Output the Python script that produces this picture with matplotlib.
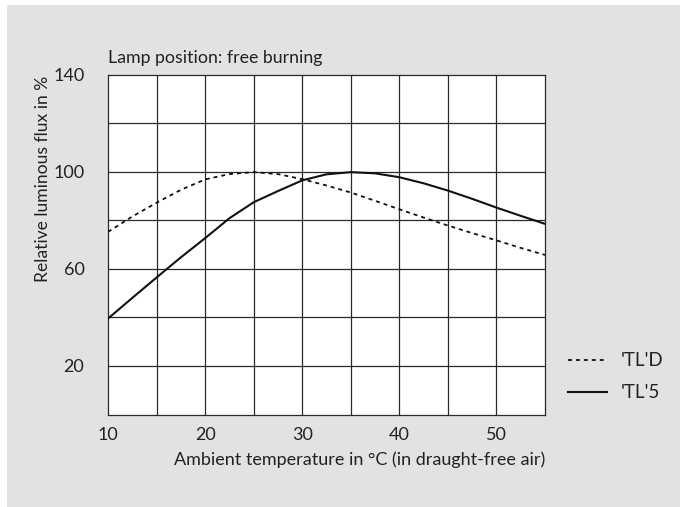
import numpy as np
import matplotlib
matplotlib.use("Agg")
import matplotlib.pyplot as plt
from matplotlib.patches import Rectangle
from matplotlib.lines import Line2D

plt.rcParams['font.family'] = ['Lato', 'DejaVu Sans']

# ambient temperature (deg C)
temp = [10, 12.5, 15, 17.5, 20, 22.5, 25, 27.5, 30, 32.5, 35, 37.5,
        40, 42.5, 45, 47.5, 50, 52.5, 55]
# relative luminous flux (%)
flux_tld = [75.2, 81.5, 87.2, 92.5, 96.8, 99.0, 99.8, 99.0, 96.9, 94.3, 91.4, 88.0,
            84.5, 81.1, 77.8, 74.7, 71.7, 68.6, 65.7]
flux_tl5 = [39.5, 48.0, 56.4, 64.7, 72.6, 80.8, 87.4, 92.0, 96.4, 98.9, 99.8, 99.3,
            97.7, 95.2, 92.2, 88.8, 85.2, 81.8, 78.5]

x_ticks = [10, 20, 30, 40, 50]
y_ticks = [20, 60, 100, 140]
labels = ["'TL'D", "'TL'5"]
styles = [(0, (2.2, 2.2)), '-']

W, H = 680, 507
TXT = '#222222'
fig = plt.figure(figsize=(W / 100, H / 100), dpi=100)
fig.patch.set_facecolor('white')
fig.patches.append(Rectangle((7 / W, 0), 1, 1 - 5 / H, transform=fig.transFigure,
                             facecolor='#e1e2e4', edgecolor='none', zorder=-10))

ax = fig.add_axes([108 / W, 1 - 414.5 / H, 437 / W, 340 / H])
ax.set_facecolor('white')
ax.set_xlim(10, 55)
ax.set_ylim(0, 140)

# grid
for xv in np.arange(15, 55, 5):
    ax.axvline(xv, color='#2a2a2a', lw=0.9, zorder=1)
for yv in np.arange(20, 140, 20):
    ax.axhline(yv, color='#2a2a2a', lw=0.9, zorder=1)

ax.plot(temp, flux_tld, color='#111111', lw=1.3, ls=styles[0], zorder=3)
ax.plot(temp, flux_tl5, color='#111111', lw=1.5, ls=styles[1], zorder=3)

for s in ax.spines.values():
    s.set_color('#2a2a2a')
    s.set_linewidth(0.9)

ax.set_xticks(x_ticks)
ax.set_yticks(y_ticks)
ax.set_xticklabels([str(v) for v in x_ticks])
ax.set_yticklabels([str(v) for v in y_ticks])
ax.tick_params(axis='both', length=0, labelsize=13, colors=TXT)
ax.tick_params(axis='x', pad=9)
ax.tick_params(axis='y', pad=17)

fig.text(108 / W, 1 - 63 / H, 'Lamp position: free burning',
         ha='left', va='baseline', fontsize=12.8, color=TXT)
fig.text(43 / W, 1 - 76 / H, 'Relative luminous flux in %', rotation=90,
         ha='center', va='top', fontsize=12.6, color=TXT)
fig.text(545 / W, 1 - 460 / H, 'Ambient temperature in °C (in draught-free air)',
         ha='right', va='center', fontsize=13, color=TXT)

# legend, drawn by hand outside the axes
for i, (lab, ls) in enumerate(zip(labels, styles)):
    yy = 1 - (360 + 32 * i) / H
    fig.add_artist(Line2D([568 / W, 607 / W], [yy, yy], transform=fig.transFigure,
                          color='#111111', lw=1.3 if i == 0 else 1.5, ls=ls))
    fig.text(621 / W, yy, lab, ha='left', va='center', fontsize=13.5, color=TXT)

fig.savefig('out.png', dpi=100)
